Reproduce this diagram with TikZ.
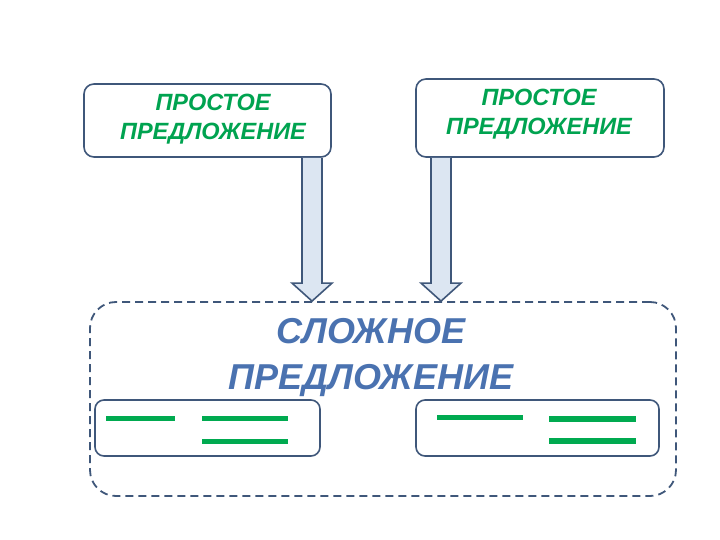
\documentclass[tikz,border=0pt]{standalone}
\usepackage{fontspec}
\setmainfont{Liberation Sans}
\usetikzlibrary{positioning}
\definecolor{framec}{RGB}{63,87,122}
\definecolor{arrowfill}{RGB}{220,230,242}
\definecolor{greentext}{RGB}{0,163,80}
\definecolor{greenline}{RGB}{0,170,80}
\definecolor{bluetext}{RGB}{74,114,176}
\tikzset{
  simplebox/.style={draw=framec,line width=1.6pt,rounded corners=10pt,fill=white},
  simpletext/.style={align=center,inner sep=0pt,text=greentext,
    font=\fontsize{23.5}{29}\selectfont\bfseries\itshape},
  bigbox/.style={draw=framec,line width=1.8pt,dash pattern=on 8pt off 5pt,rounded corners=26pt},
  schemebox/.style={draw=framec,line width=1.6pt,rounded corners=9pt,minimum height=56pt},
  blockarrow/.style={draw=framec,line width=1.6pt,fill=arrowfill,line join=miter},
  subj/.style={greenline,line width=5pt},
  pred/.style={greenline,line width=6.5pt}
}
\begin{document}
\begin{tikzpicture}[x=1pt,y=-1pt]
  \useasboundingbox (0,0) rectangle (720,540);
  %Complex sentence frame
  \node[bigbox,minimum width=586pt,minimum height=194pt] (c) at (383,399) {};
  \node[text=bluetext,align=center,font=\fontsize{36}{46}\selectfont\bfseries\itshape] (ctext) at (371,358) {СЛОЖНОЕ\\ПРЕДЛОЖЕНИЕ};
  %Simple sentences
  \node[simplebox,minimum width=247pt,minimum height=73pt] (p1) at (207.5,120.5) {};
  \node[simpletext] (p1text) at (213,119) {ПРОСТОЕ\\ПРЕДЛОЖЕНИЕ};
  \node[simplebox,minimum width=248pt,minimum height=78pt] (p2) at (540,118) {};
  \node[simpletext] (p2text) at (539,114) {ПРОСТОЕ\\ПРЕДЛОЖЕНИЕ};
  %Arrows
  \coordinate (a1) at (312,0);
  \coordinate (a2) at (441,0);
  \coordinate (s1) at (a1 |- p1.south);
  \coordinate (t1) at (a1 |- c.north);
  \coordinate (s2) at (a2 |- p2.south);
  \coordinate (t2) at (a2 |- c.north);
  \draw[blockarrow] ([xshift=-10pt]s1) -- ([shift={(-10pt,18pt)}]t1) -- ([shift={(-20pt,18pt)}]t1)
    -- (t1) -- ([shift={(20pt,18pt)}]t1) -- ([shift={(10pt,18pt)}]t1) -- ([xshift=10pt]s1);
  \draw[blockarrow] ([xshift=-10pt]s2) -- ([shift={(-10pt,18pt)}]t2) -- ([shift={(-20pt,18pt)}]t2)
    -- (t2) -- ([shift={(20pt,18pt)}]t2) -- ([shift={(10pt,18pt)}]t2) -- ([xshift=10pt]s2);
  %Schemes
  \node[schemebox,minimum width=225pt] (sc1) at (207.5,428) {};
  \node[schemebox,minimum width=243pt] (sc2) at (537.5,428) {};
  \draw[subj] (106,418) -- (175,418);
  \draw[subj] (202,418) -- (288,418);
  \draw[subj] (202,441) -- (288,441);
  \draw[subj] (437,417) -- (523,417);
  \draw[pred] (549,419) -- (636,419);
  \draw[pred] (549,441) -- (636,441);
\end{tikzpicture}
\end{document}
